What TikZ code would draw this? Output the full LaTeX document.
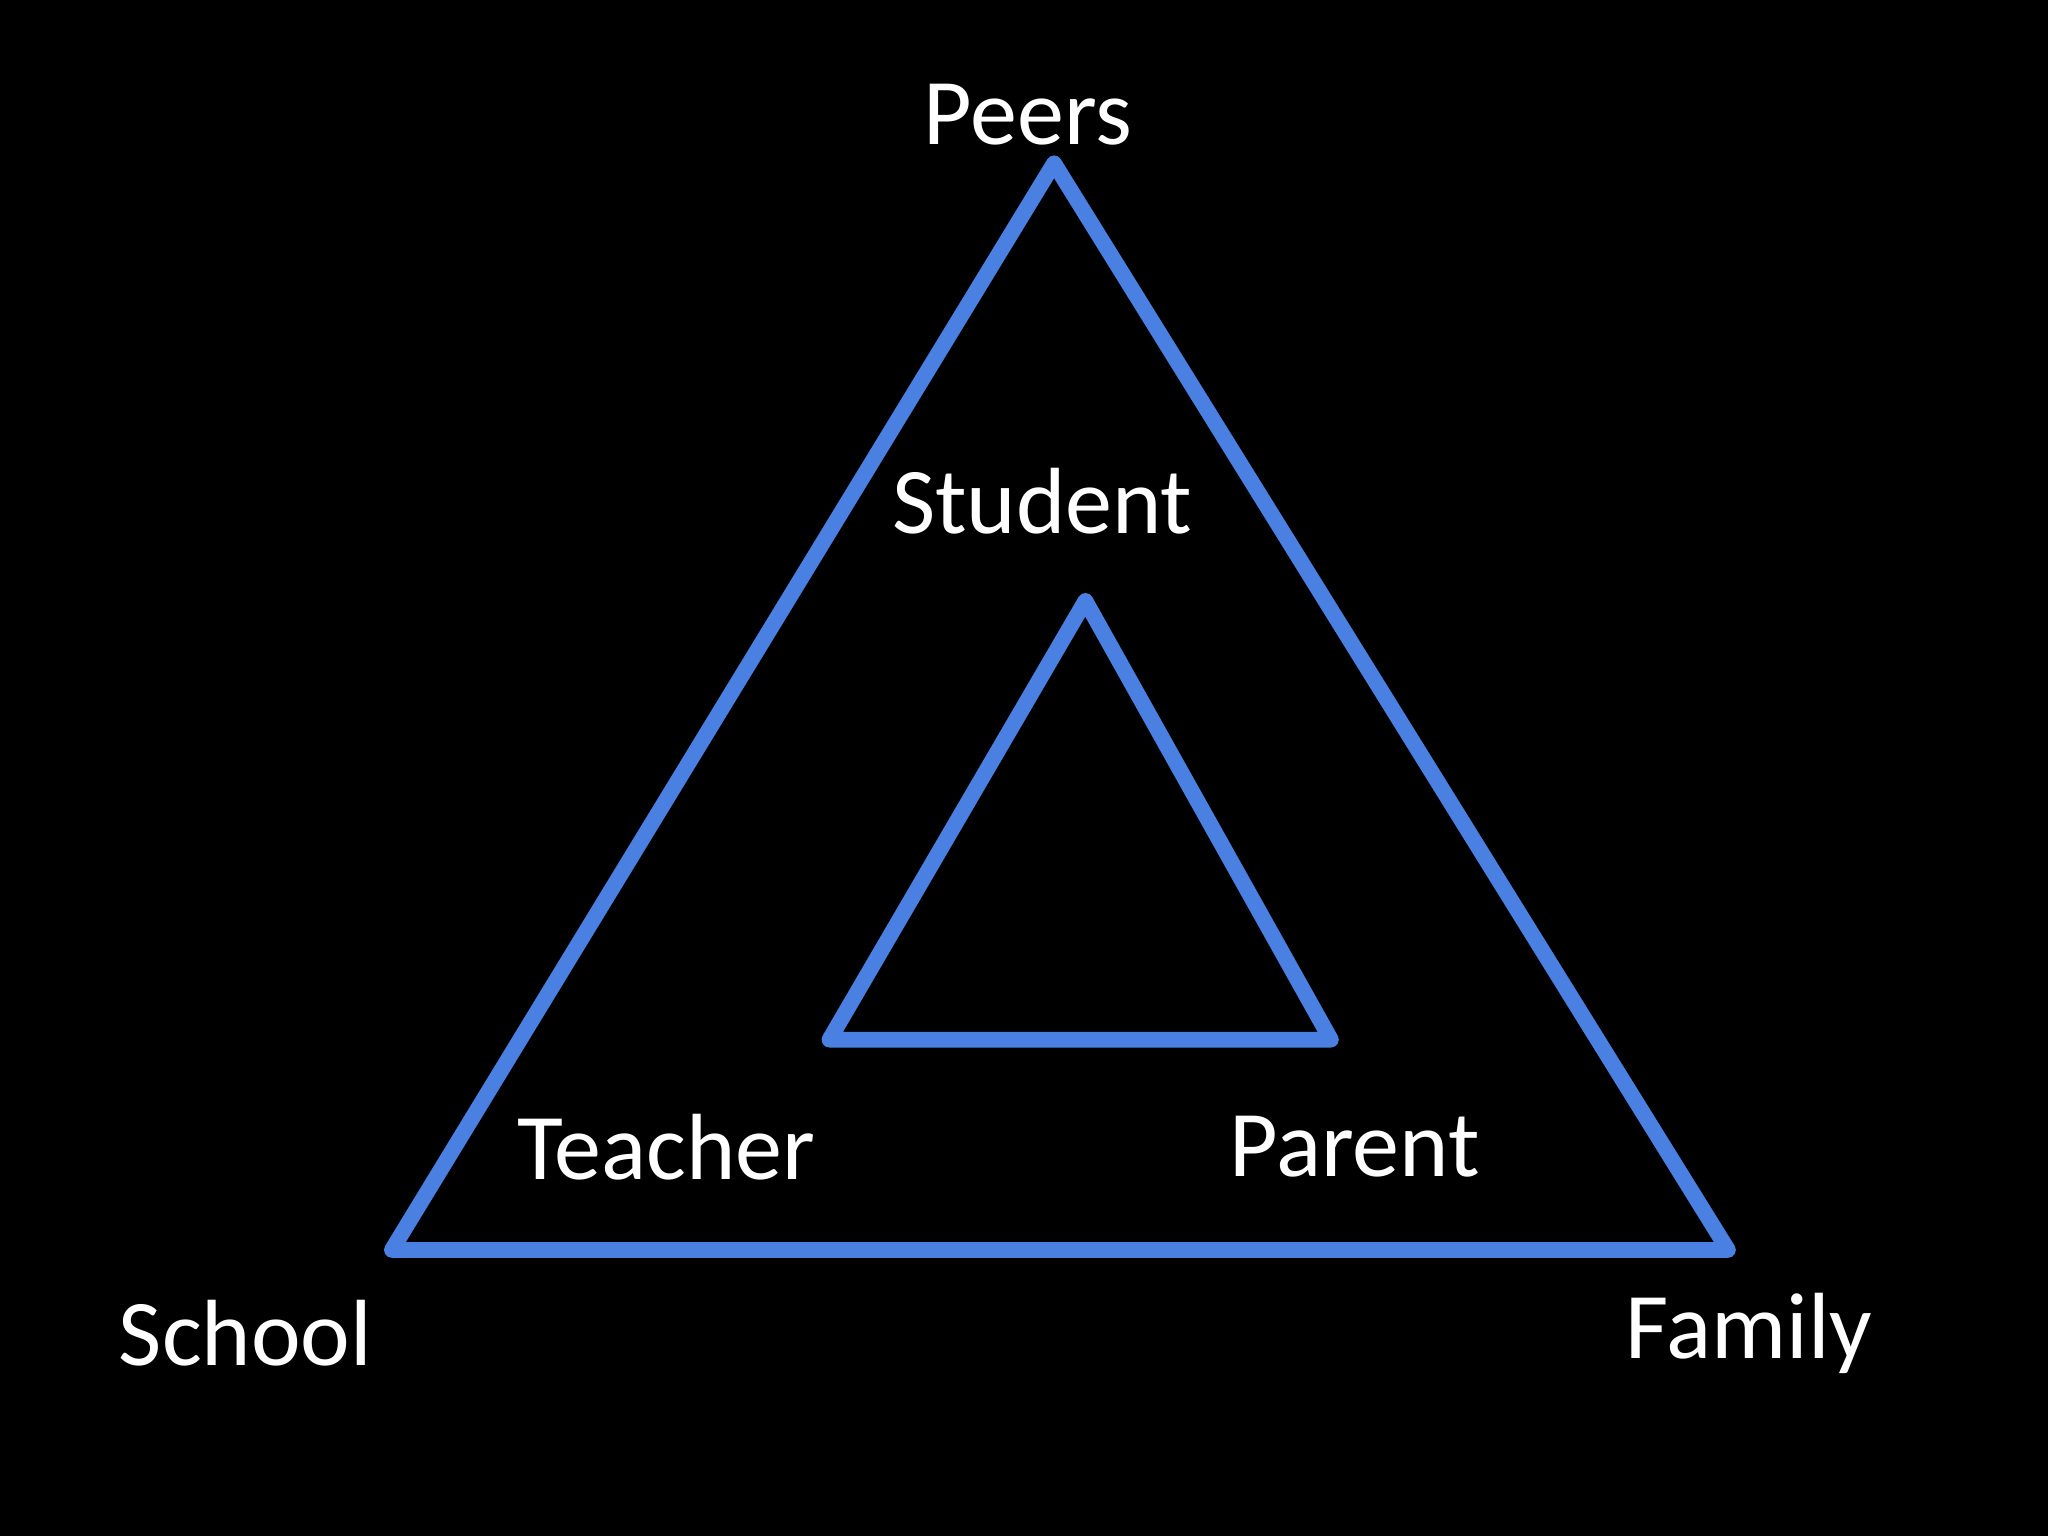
\documentclass[tikz,border=0pt]{standalone}
\usepackage{fontspec}
\setmainfont{Carlito}
\definecolor{tri}{HTML}{4A80E2}
\begin{document}
\begin{tikzpicture}[x=1pt,y=-1pt,
  edge/.style={draw=tri,line width=12pt,line join=round,line cap=round},
  lbl/.style={text=white,font=\fontsize{72}{80}\selectfont,inner sep=0pt}]
\fill[black] (0,0) rectangle (1568,1176);
\useasboundingbox (0,0) rectangle (1568,1176);
\coordinate (oa) at (807,125); \coordinate (ob) at (300,957); \coordinate (oc) at (1323,957);
\coordinate (ia) at (831,460); \coordinate (ib) at (635,796); \coordinate (ic) at (1019,796);
\draw[edge] (oa) -- (ob) -- (oc) -- cycle;
\draw[edge] (ia) -- (ib) -- (ic) -- cycle;
\node[lbl] (peers) at (787,88) {Peers};
\node[lbl] (student) at (798,384) {Student};
\node[lbl] (teacher) at (510,878) {Teacher};
\node[lbl] (parent) at (1037,878) {Parent};
\node[lbl] (school) at (188,1021) {School};
\node[lbl] (family) at (1339,1021) {Family};
\end{tikzpicture}
\end{document}
